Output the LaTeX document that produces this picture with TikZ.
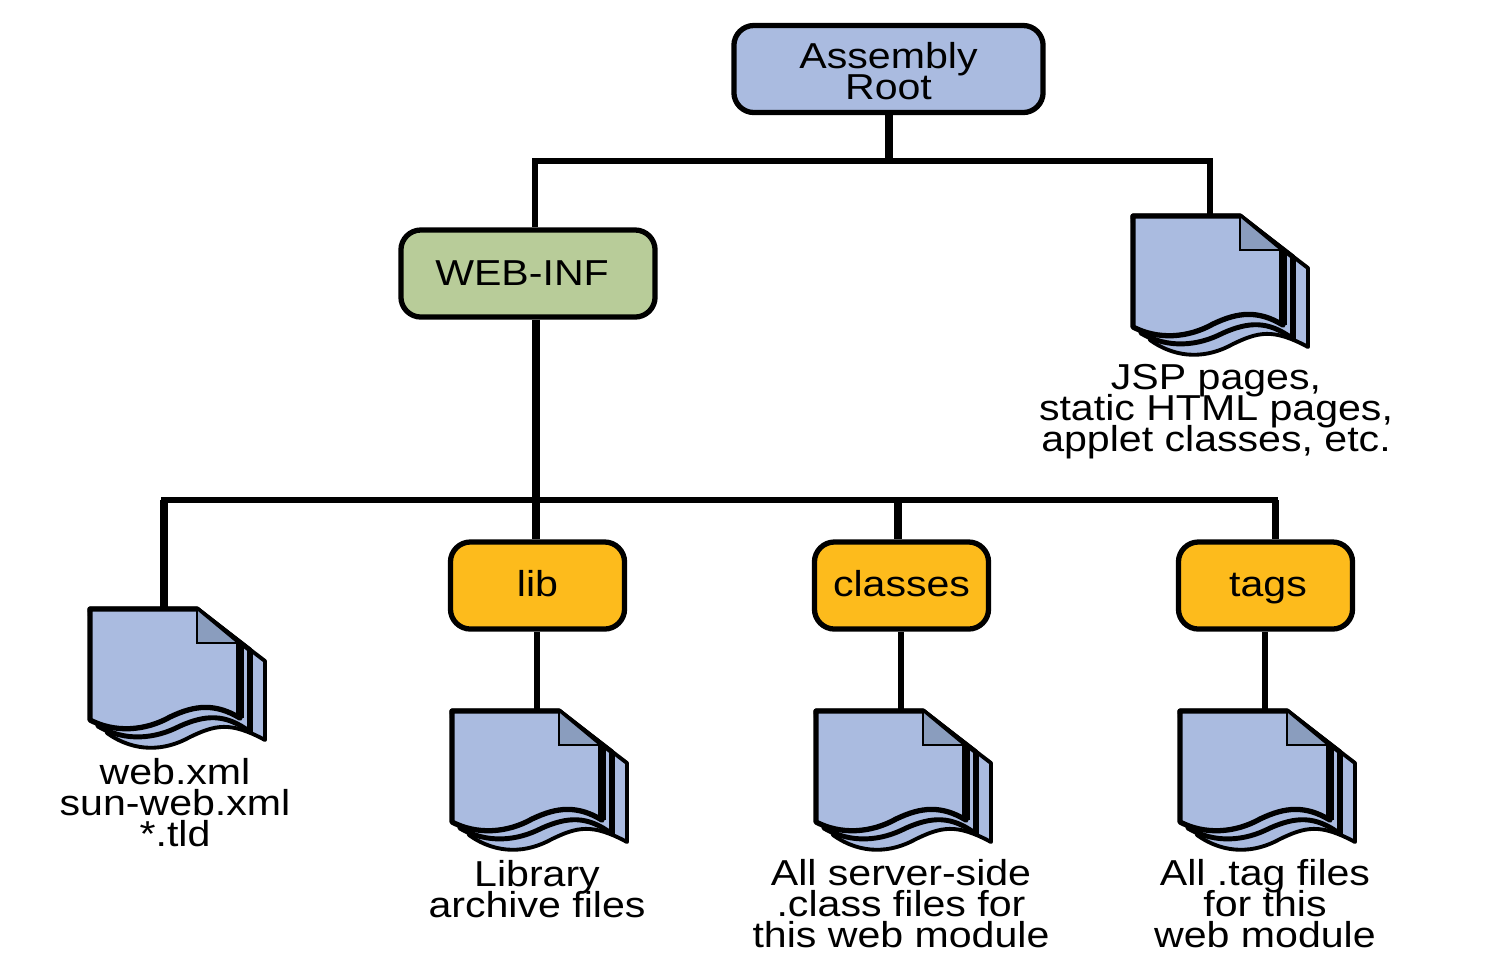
\documentclass[tikz,border=0pt]{standalone}
\usepackage{amsmath}
\usepackage{fontspec}
\setmainfont[FakeStretch=1.14]{Liberation Sans}
\usepackage{tikz}
\definecolor{docblue}{RGB}{170,187,224}
\definecolor{docfold}{RGB}{138,157,190}
\definecolor{infgreen}{RGB}{184,204,153}
\definecolor{liborange}{RGB}{253,187,28}
\newcommand{\labelfont}{\fontsize{10.25}{8.8}\selectfont\lineskiplimit=-20pt}
\tikzset{
	dirbox/.style={draw=black,line width=1.5pt,rounded corners=0.2cm,minimum height=0.87cm,align=center,inner sep=0pt,font=\labelfont},
	subdir/.style={dirbox,fill=liborange,minimum width=1.74cm,text height=8pt,text depth=2pt},
	doclabel/.style={align=center,inner sep=0pt,font=\labelfont},
	heavy/.style={line width=2.2pt},
	medium/.style={line width=1.6pt},
	docicon/.pic={
		\draw [fill=docblue,line width=1.1pt,line join=round](0,0)--(107,0)--(175,52)--(175,131)
			.. controls (140,112) and (125,116) .. (100,128)
			.. controls (75,142) and (45,144) .. (17,124)--cycle;
		\draw [fill=docblue,line width=1.4pt,line join=round](0,0)--(107,0)--(160,41)--(160,123)
			.. controls (135,104) and (115,106) .. (90,117)
			.. controls (65,130) and (35,133) .. (8,117)--cycle;
		\draw [fill=docblue,line width=1.5pt,line join=round](0,0)--(107,0)--(150,34)--(150,109)
			.. controls (125,94) and (105,96) .. (80,108)
			.. controls (55,122) and (25,124) .. (0,111)--cycle;
		\draw [fill=docfold,line width=0.5pt](107,0)--(107,34)--(148,34)--cycle;
		\draw [line width=2.2pt](150,34)--(150,109);
		\draw [line width=1.8pt](160,41)--(160,123);
		\coordinate (-top) at (85,0);
	}
}
\begin{document}
\begin{tikzpicture}[x=0.01cm,y=-0.01cm]
	\useasboundingbox (0,0) rectangle (1500,959);
	% directories
	\node [dirbox,fill=docblue,minimum width=3.09cm] (root) at (888.5,69) {\rule{0pt}{8.7pt}Assembly\\Root};
	\node [dirbox,fill=infgreen,minimum width=2.54cm] (webinf) at (528,273.5) {WEB-INF\hspace{3.4pt}};
	\node [subdir] (lib) at (537.5,585.5) {lib};
	\node [subdir] (classes) at (901.5,585.5) {classes};
	\node [subdir] (tags) at (1265.5,585.5) {\hspace{1.4pt}tags};
	% files
	\pic (jspdoc) at (1133,216) {docicon};
	\pic (xmldoc) at (90,609) {docicon};
	\pic (libdoc) at (452,711) {docicon};
	\pic (classdoc) at (816,711) {docicon};
	\pic (tagdoc) at (1180,711) {docicon};
	% bars
	\coordinate (topbar) at (889,161);
	\coordinate (topl) at (535,161);
	\coordinate (topr) at (1210,161);
	\coordinate (midbar) at (536,500);
	\coordinate (midl) at (164,500);
	\coordinate (midc) at (898,500);
	\coordinate (midr) at (1275,500);
	\draw [heavy](root.south -| topbar)--(topbar);
	\draw [medium,line cap=rect](topl)--(topr);
	\draw [medium](topl)--(webinf.north -| topl);
	\draw [medium](topr)--(jspdoc-top -| topr);
	\draw [heavy](webinf.south -| midbar)--(lib.north -| midbar);
	\draw [medium,line cap=rect](midl)--(midr);
	\draw [heavy](midl)--(xmldoc-top -| midl);
	\draw [line width=2pt](midc)--(classes.north -| midc);
	\draw [line width=2pt](midr)--(tags.north -| midr);
	\draw [medium](lib.south -| libdoc-top)--(libdoc-top);
	\draw [medium](classes.south -| classdoc-top)--(classdoc-top);
	\draw [medium](tags.south -| tagdoc-top)--(tagdoc-top);
	% labels
	\node [doclabel] (jsptext) at (1216,412) {JSP pages,\\static HTML pages,\\applet classes, etc.};
	\node [doclabel] (xmltext) at (175,803) {web.xml\\sun-web.xml\\*.tld};
	\node [doclabel] (libtext) at (537,889) {Library\\archive files};
	\node [doclabel] (classtext) at (901,904) {All server-side\\.class files for\\this web module};
	\node [doclabel] (tagtext) at (1265,904) {All .tag files\\for this\\web module};
\end{tikzpicture}
\end{document}
